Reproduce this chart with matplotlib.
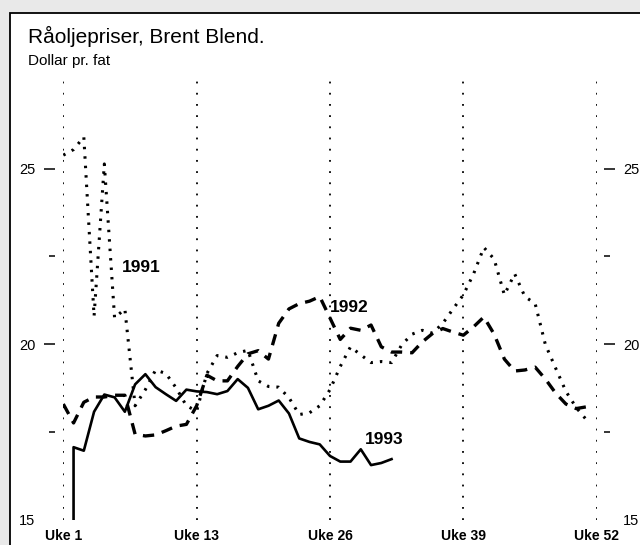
import numpy as np
import matplotlib
matplotlib.use('Agg')
import matplotlib.pyplot as plt
from matplotlib.patches import Rectangle

plt.rcParams['font.family'] = ['Liberation Sans Narrow', 'Liberation Sans', 'DejaVu Sans']

# uker regnet fra Uke 1 (0) til Uke 52 (52)
uker_1991 = list(range(0, 52))
pris_1991 = [25.38, 25.54, 25.9, 20.79, 25.13, 20.74, 21.0, 18.24, 18.7, 19.26,
             19.16, 18.75, 18.24, 18.09, 19.16, 19.67, 19.62, 19.75, 19.82, 18.95,
             18.79, 18.77, 18.47, 17.99, 18.04, 18.24, 18.7, 19.36, 19.92, 19.69,
             19.47, 19.5, 19.47, 19.98, 20.28, 20.39, 20.31, 20.59, 21.0, 21.4,
             22.0, 22.75, 22.42, 21.4, 22.0, 21.35, 21.15, 19.98, 19.31, 18.65,
             18.19, 17.84]

uker_1992 = list(range(0, 52))
pris_1992 = [18.29, 17.75, 18.34, 18.49, 18.49, 18.54, 18.54, 17.43, 17.38, 17.41,
             17.53, 17.66, 17.71, 18.24, 19.11, 18.95, 18.95, 19.36, 19.72, 19.81,
             19.57, 20.59, 21.0, 21.15, 21.22, 21.35, 20.74, 20.13, 20.45, 20.39,
             20.54, 19.92, 19.77, 19.77, 19.75, 20.06, 20.3, 20.44, 20.34, 20.25,
             20.49, 20.77, 20.28, 19.57, 19.23, 19.26, 19.34, 19.0, 18.6, 18.29,
             18.16, 18.21]

uker_1993 = [1] + list(range(1, 33))
pris_1993 = [15.0, 17.06, 16.96, 18.07, 18.56, 18.48, 18.07, 18.85, 19.14, 18.77,
             18.57, 18.38, 18.7, 18.65, 18.63, 18.57, 18.66, 19.0, 18.75, 18.14,
             18.24, 18.39, 18.02, 17.31, 17.21, 17.14, 16.81, 16.65, 16.65, 17.0,
             16.55, 16.61, 16.72]

uke_pos = [0, 13, 26, 39, 52]
uke_tekst = ['Uke 1', 'Uke 13', 'Uke 26', 'Uke 39', 'Uke 52']


fig = plt.figure(figsize=(6.4, 5.45), dpi=100, facecolor='#e9e9e9')
ramme = Rectangle((10 / 640, -0.02), 1.0, 0.998 - 12 / 545 + 0.02,
                  transform=fig.transFigure, facecolor='white',
                  edgecolor='black', linewidth=1.3, zorder=-5)
fig.patches.append(ramme)

ax = fig.add_axes([63.3 / 640, 25.5 / 545, 533.4 / 640, 439.5 / 545])
ax.set_facecolor('none')
ax.set_zorder(2)
ax.set_xlim(0, 52)
ax.set_ylim(15, 15 + 439.5 / 35.1)

for x in uke_pos:
    ax.axvline(x, color='black', linewidth=1.3, linestyle=(0, (1, 5.2)), zorder=1)

ax.plot(uker_1991, pris_1991, color='black', linewidth=2.2,
        linestyle=(0, (0.8, 2.3)), zorder=3)
ax.plot(uker_1992, pris_1992, color='black', linewidth=2.4,
        linestyle=(0, (3.4, 2.4)), zorder=3)
ax.plot(uker_1993, pris_1993, color='black', linewidth=1.9, zorder=4)

ax.text(5.69, 22.05, '1991', fontsize=12.5, fontweight='bold', va='baseline')
ax.text(26.0, 20.91, '1992', fontsize=12.5, fontweight='bold', va='baseline')
ax.text(29.4, 17.15, '1993', fontsize=12.5, fontweight='bold', va='baseline')

for s in ax.spines.values():
    s.set_visible(False)
ax.spines['left'].set_position(('outward', 6))
ax.spines['right'].set_position(('outward', 5))

ax.set_yticks([15, 20, 25])
ax.set_yticks([17.5, 22.5], minor=True)
ax.yaxis.set_ticks_position('both')
ax.tick_params(axis='y', which='major', length=8, width=1.1, pad=6,
               labelsize=10.5, labelleft=True, labelright=True)
ax.tick_params(axis='y', which='minor', length=4, width=1.1)
ytick = ax.yaxis.get_major_ticks()[0]
ytick.tick1line.set_visible(False)
ytick.tick2line.set_visible(False)

ax.set_xticks(uke_pos)
ax.set_xticklabels(uke_tekst, fontweight='bold')
ax.tick_params(axis='x', length=0, pad=7, labelsize=10)

fig.text(28 / 640, 1 - 43 / 545, 'Råoljepriser, Brent Blend.', fontsize=15,
         va='baseline')
fig.text(28 / 640, 1 - 65 / 545, 'Dollar pr. fat', fontsize=11, va='baseline')

fig.savefig('out.png', dpi=100, facecolor=fig.get_facecolor())
